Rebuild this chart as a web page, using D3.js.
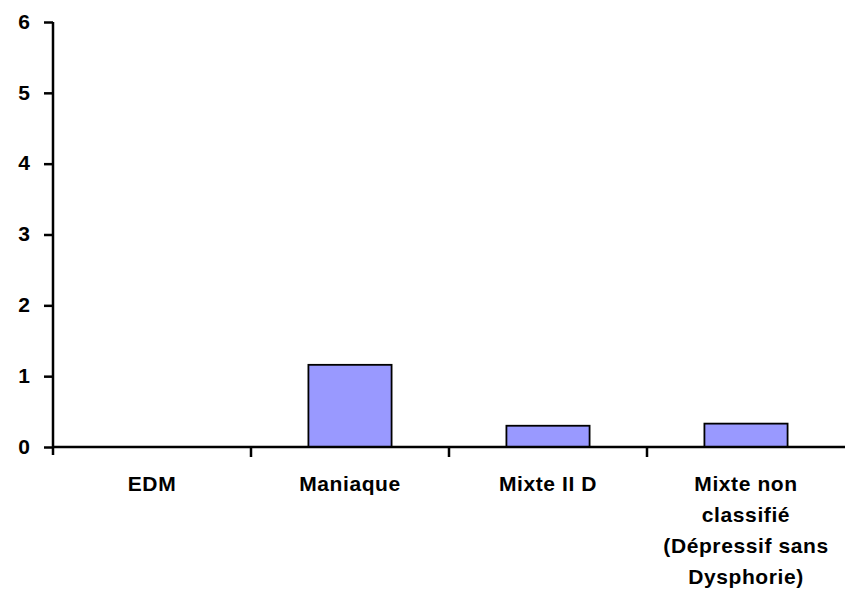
<!DOCTYPE html>
<html>
<head>
<meta charset="utf-8">
<script src="https://cdn.jsdelivr.net/npm/d3@7/dist/d3.min.js"></script>
<style>
  html, body { margin: 0; padding: 0; background: #fff; }
  svg { display: block; }
  text { font-family: "Liberation Sans", Arial, sans-serif; font-weight: bold; fill: #000; }
</style>
</head>
<body>
<svg id="chart" width="845" height="599"></svg>
<script>
// Category labels (multi-line where needed) and values
const categories = ["EDM", "Maniaque", "Mixte II D", "Mixte non classifié (Dépressif sans Dysphorie)"];
const categoryLines = [["EDM"], ["Maniaque"], ["Mixte II D"], ["Mixte non", "classifié", "(Dépressif sans", "Dysphorie)"]];
const values = [0, 1.16, 0.30, 0.33];
const yTicks = [0, 1, 2, 3, 4, 5, 6];
const yTickLabels = ["0", "1", "2", "3", "4", "5", "6"];

const svg = d3.select("#chart");
const plot = { left: 53, right: 845, top: 22, bottom: 447 };

const x = d3.scaleBand().domain(categories).range([plot.left, plot.right]).paddingInner(0).paddingOuter(0);
const y = d3.scaleLinear().domain([0, 6]).range([plot.bottom, plot.top]);

// Bars
const barW = x.bandwidth() * 0.42;
svg.append("g").selectAll("rect")
  .data(categories.map((c, i) => ({ c, v: values[i] })))
  .join("rect")
  .attr("x", d => x(d.c) + (x.bandwidth() - barW) / 2)
  .attr("y", d => y(d.v))
  .attr("width", barW)
  .attr("height", d => y(0) - y(d.v))
  .attr("fill", "#9999FF")
  .attr("stroke", "#000")
  .attr("stroke-width", 1.8)
  .style("display", d => d.v > 0 ? null : "none");

// Y axis
const yAxis = d3.axisLeft(y).tickValues(yTicks).tickFormat((d, i) => yTickLabels[i]).tickSize(9).tickPadding(14);
const gy = svg.append("g").attr("transform", `translate(${plot.left},0)`).call(yAxis);
gy.select(".domain").attr("stroke", "#000").attr("stroke-width", 2.5).attr("d", `M0,${plot.top}V${plot.bottom + 8}`);
gy.selectAll(".tick line").attr("stroke", "#000").attr("stroke-width", 2.5);
gy.selectAll(".tick text")
  .attr("dy", "0.3em")
  .style("font-size", "21px")
  .style("font-family", "'Liberation Sans', Arial, sans-serif")
  .style("font-weight", "bold");

// X axis: baseline with tick marks between categories
const gx = svg.append("g").attr("transform", `translate(0,${plot.bottom})`);
gx.append("line").attr("x1", plot.left).attr("x2", plot.right).attr("y1", 0).attr("y2", 0)
  .attr("stroke", "#000").attr("stroke-width", 2.5);
const boundaries = categories.slice(1).map(c => x(c));
gx.selectAll("line.sep").data(boundaries).join("line").attr("class", "sep")
  .attr("x1", d => d).attr("x2", d => d).attr("y1", 0).attr("y2", 10)
  .attr("stroke", "#000").attr("stroke-width", 2.5);

// Category labels
const lab = svg.append("g").selectAll("text")
  .data(categories.map((c, i) => ({ c, lines: categoryLines[i] })))
  .join("text")
  .attr("x", d => x(d.c) + x.bandwidth() / 2)
  .attr("y", 491)
  .attr("text-anchor", "middle")
  .style("font-size", "21px")
  .style("letter-spacing", "0.6px");
lab.selectAll("tspan").data(d => d.lines.map(l => ({ l, x: x(d.c) + x.bandwidth() / 2 })))
  .join("tspan")
  .attr("x", d => d.x)
  .attr("dy", (d, i) => i === 0 ? 0 : 31)
  .text(d => d.l);
</script>
</body>
</html>
